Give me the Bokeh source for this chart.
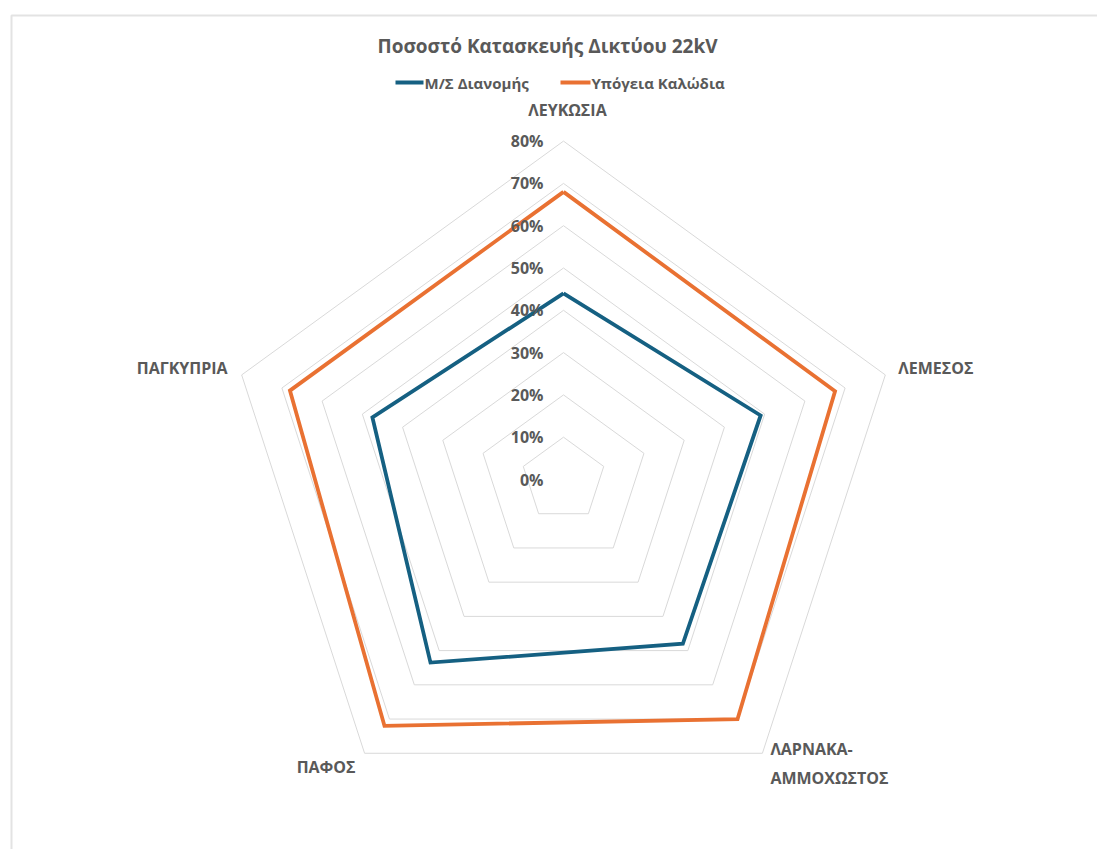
import numpy as np
from bokeh.plotting import figure
from bokeh.models import Range1d
from bokeh.core.properties import value
from bokeh.embed import file_html
from bokeh.resources import INLINE

# ---- data ----
title = "Ποσοστό Κατασκευής Δικτύου 22kV"
categories = ["ΛΕΥΚΩΣΙΑ", "ΛΕΜΕΣΟΣ", "ΛΑΡΝΑΚΑ-\nΑΜΜΟΧΩΣΤΟΣ", "ΠΑΦΟΣ", "ΠΑΓΚΥΠΡΙΑ"]
series_names = ["Μ/Σ Διανομής", "Υπόγεια Καλώδια"]
ms_dianomis = [44.0, 49.0, 48.0, 53.5, 47.5]
ypogeia_kalodia = [68.0, 67.5, 70.0, 72.0, 68.0]
tick_values = [0, 10, 20, 30, 40, 50, 60, 70, 80]
tick_labels = ["0%", "10%", "20%", "30%", "40%", "50%", "60%", "70%", "80%"]

colors = ["#156082", "#E97132"]
grid_color = "#D9D9D9"
text_color = "#595959"
FONT = "Open Sans"

W, H = 1097, 849
cx_px, cy_px = 563, 479      # centre of radar in pixels
px_per_unit = 4.23           # pixels per 1 %

n = len(categories)
angles = np.pi / 2 - 2 * np.pi * np.arange(n) / n

def to_xy(vals):
    v = np.asarray(vals, dtype=float)
    return v * np.cos(angles), v * np.sin(angles)

p = figure(width=W, height=H, output_backend="svg", toolbar_location=None,
           min_border=0, outline_line_color=None)
p.x_range = Range1d(-cx_px / px_per_unit, (W - cx_px) / px_per_unit)
p.y_range = Range1d(-(H - cy_px) / px_per_unit, cy_px / px_per_unit)
p.axis.visible = False
p.grid.visible = False
p.background_fill_color = "white"
p.border_fill_color = "white"

def px2d(x, y):
    return (x - cx_px) / px_per_unit, (cy_px - y) / px_per_unit

# chart border (light frame)
bx0, by0 = px2d(11, 15)
bx1, by1 = px2d(W + 5, H + 5)
p.line([bx1, bx0, bx0], [by0, by0, by1], line_color="#E3E3E3", line_width=2)

# grid rings
for t in tick_values[1:]:
    gx, gy = to_xy([t] * n)
    p.line(list(gx) + [gx[0]], list(gy) + [gy[0]], line_color=grid_color, line_width=1)

# series
for vals, col in zip([ms_dianomis, ypogeia_kalodia], colors):
    sx, sy = to_xy(vals)
    p.line(list(sx) + [sx[0]], list(sy) + [sy[0]], line_color=col, line_width=3.8,
           line_join="miter")

# tick labels
p.text(x=[0] * len(tick_values), y=tick_values, text=tick_labels,
       x_offset=-20, text_align="right", text_baseline="middle",
       text_font=value(FONT), text_font_size="16px", text_font_style="bold",
       text_color=text_color)

# category labels
lx, ly = to_xy([80] * n)
aligns = ["center", "left", "left", "right", "right"]
baselines = ["bottom", "middle", "top", "top", "middle"]
xoffs = [4, 13, 8, -9, -14]
yoffs = [-20, -7, -15, 3, -7]
for i in range(n):
    p.text(x=[lx[i]], y=[ly[i]], text=[categories[i]], x_offset=xoffs[i], y_offset=yoffs[i],
           text_align=aligns[i], text_baseline=baselines[i], text_line_height=1.29,
           text_font=value(FONT), text_font_size="16px", text_font_style="bold",
           text_color=text_color)

# title
tx, ty = px2d(547, 45)
p.text(x=[tx], y=[ty], text=[title], text_align="center", text_baseline="middle",
       text_font=value(FONT), text_font_size="19px", text_font_style="bold",
       text_color=text_color)

# legend
lgx0, lgy = px2d(395, 82)
lgx1, _ = px2d(423, 82)
lgx2, _ = px2d(560, 82)
lgx3, _ = px2d(590, 82)
p.line([lgx0, lgx1], [lgy, lgy], line_color=colors[0], line_width=3.8)
p.line([lgx2, lgx3], [lgy, lgy], line_color=colors[1], line_width=3.8)
p.text(x=[lgx1, lgx3], y=[lgy, lgy], text=series_names, x_offset=1,
       text_align="left", text_baseline="middle",
       text_font=value(FONT), text_font_size="15px", text_font_style="bold",
       text_color=text_color)

open("out.html", "w").write(file_html(p, INLINE))
